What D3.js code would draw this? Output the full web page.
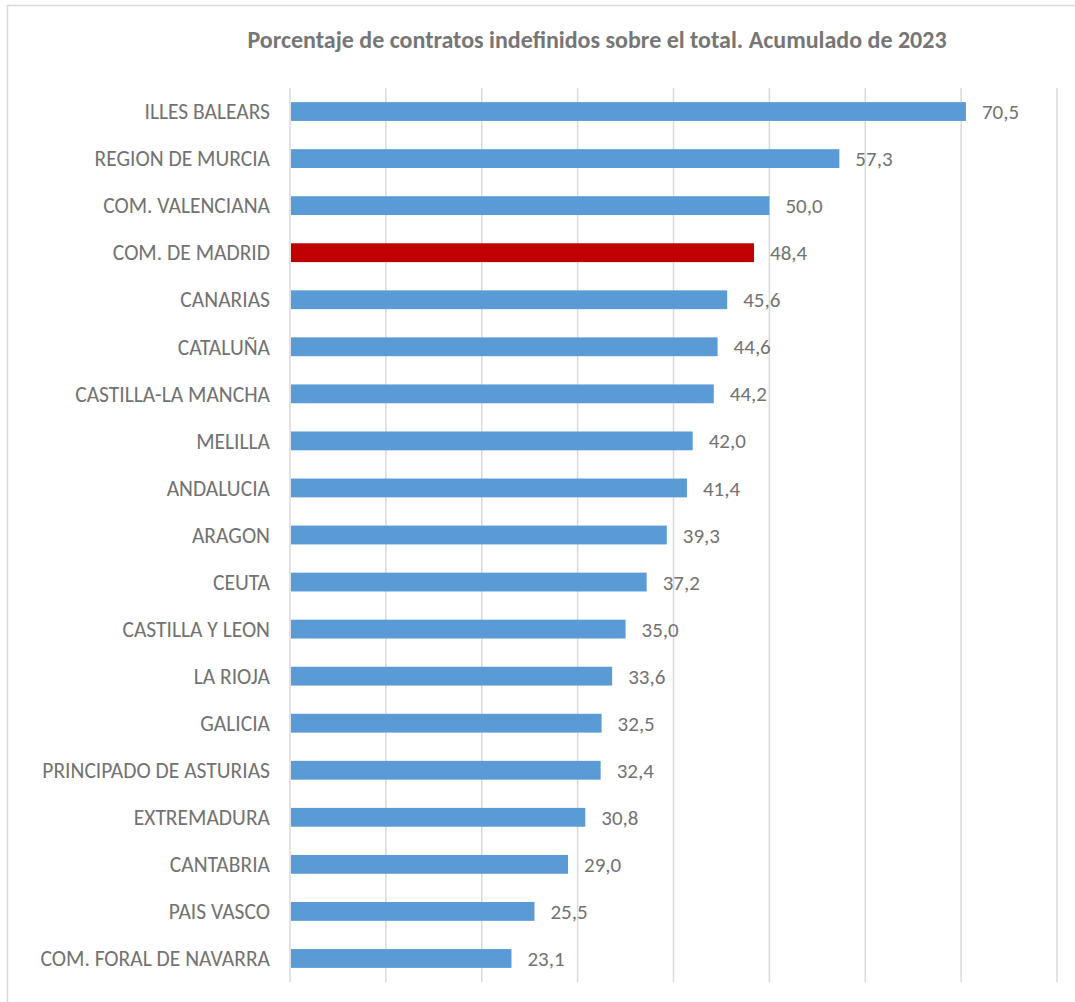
<!DOCTYPE html>
<meta charset="utf-8">
<script src="https://d3js.org/d3.v7.min.js"></script>
<style>
  body { margin: 0; background: #fff; }
</style>
<div id="my_dataviz"></div>
<script>
    // data
    var regions = ["ILLES BALEARS", "REGION DE MURCIA", "COM. VALENCIANA", "COM. DE MADRID",
      "CANARIAS", "CATALUÑA", "CASTILLA-LA MANCHA", "MELILLA", "ANDALUCIA", "ARAGON",
      "CEUTA", "CASTILLA Y LEON", "LA RIOJA", "GALICIA", "PRINCIPADO DE ASTURIAS",
      "EXTREMADURA", "CANTABRIA", "PAIS VASCO", "COM. FORAL DE NAVARRA"];
    var values = [70.5, 57.3, 50.0, 48.4, 45.6, 44.6, 44.2, 42.0, 41.4, 39.3,
      37.2, 35.0, 33.6, 32.5, 32.4, 30.8, 29.0, 25.5, 23.1];
    var highlight = ["COM. DE MADRID"];
    var gridTicks = [0, 10, 20, 30, 40, 50, 60, 70, 80];
    var title = "Porcentaje de contratos indefinidos sobre el total. Acumulado de 2023";

    var W = 1075, H = 1002;
    var margin = {top: 88, right: 18, bottom: 20, left: 290};
    var width = 1057 - margin.left,
        height = 982 - margin.top;
    var font = "Carlito, 'Open Sans', sans-serif";

    var root = d3.select("#my_dataviz")
      .append("svg")
        .attr("width", W)
        .attr("height", H);

    // chart frame
    root.append("rect")
      .attr("x", 7.5).attr("y", 5.5)
      .attr("width", W + 20).attr("height", H + 20)
      .attr("fill", "#fff")
      .attr("stroke", "#d9d9d9")
      .attr("stroke-width", 1.5);

    root.append("text")
      .attr("x", 597).attr("y", 48)
      .attr("text-anchor", "middle")
      .style("font-family", font)
      .style("font-size", "24px")
      .style("font-weight", "bold")
      .attr("fill", "#767676")
      .text(title);

    var svg = root.append("g")
      .attr("transform", "translate(" + margin.left + "," + margin.top + ")");

    var x = d3.scaleLinear()
      .domain([0, 80])
      .range([0, width]);

    var y = d3.scaleBand()
      .domain(regions)
      .range([0, height])
      .paddingInner(0.6)
      .paddingOuter(0.3);

    // vertical gridlines
    svg.selectAll(".grid")
      .data(gridTicks)
      .enter().append("line")
        .attr("x1", d => x(d)).attr("x2", d => x(d))
        .attr("y1", 0).attr("y2", height)
        .attr("stroke", "#d9d9d9")
        .attr("stroke-width", 1.5);

    var data = regions.map((r, i) => ({region: r, value: values[i]}));

    svg.selectAll(".bar")
      .data(data)
      .enter().append("rect")
        .attr("x", x(0) + 1)
        .attr("y", d => y(d.region))
        .attr("width", d => x(d.value) - x(0) - 1)
        .attr("height", y.bandwidth())
        .attr("fill", d => highlight.includes(d.region) ? "#c00000" : "#5b9bd5");

    // category labels
    svg.selectAll(".cat")
      .data(data)
      .enter().append("text")
        .attr("x", -20)
        .attr("y", d => y(d.region) + y.bandwidth() / 2)
        .attr("dy", "0.36em")
        .attr("text-anchor", "end")
        .style("font-family", font)
        .style("font-size", "21.5px")
        .attr("fill", "#727272")
        .text(d => d.region);

    // value labels
    svg.selectAll(".val")
      .data(data)
      .enter().append("text")
        .attr("x", d => x(d.value) + 16)
        .attr("y", d => y(d.region) + y.bandwidth() / 2)
        .attr("dy", "0.36em")
        .style("font-family", font)
        .style("font-size", "21px")
        .attr("fill", "#727272")
        .text(d => d3.format(".1f")(d.value).replace(".", ","));
</script>
